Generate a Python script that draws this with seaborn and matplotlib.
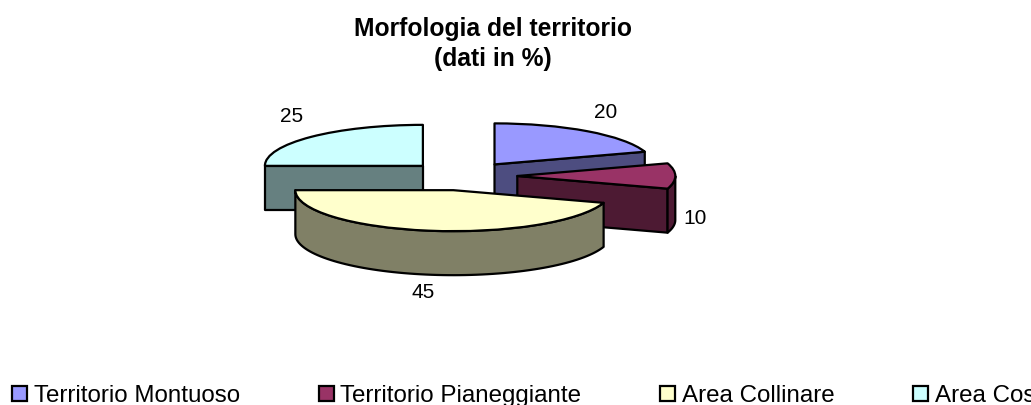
import numpy as np
import matplotlib
matplotlib.use("Agg")
import matplotlib.pyplot as plt
import seaborn as sns

categories = ["Territorio Montuoso", "Territorio Pianeggiante", "Area Collinare", "Area Costiera"]
values = [20, 10, 45, 25]
colors = ["#9999FF", "#993366", "#FFFFCC", "#CCFFFF"]
title = "Morfologia del territorio\n(dati in %)"

W, H = 1031, 405
CX, CY, RX, RY = 462, 176, 158, 41   # pie centre and radii, pixels
DEPTH = 44 / RY                      # extrusion in radius units
EXPLODE = 0.35
LW = 1.6

sns.set_theme(style="white")
plt.rcParams["font.family"] = ["Liberation Sans", "DejaVu Sans"]
FS_TITLE = 17.7
FS_LABEL = 15.0
FS_LEGEND = 17.4

fig = plt.figure(figsize=(W / 100, H / 100), dpi=100, facecolor="white")
ax = fig.add_axes([0, 0, 1, 1])

wedges, _ = ax.pie(values, labels=None, colors=colors, startangle=90, counterclock=False,
                   explode=[EXPLODE] * len(values),
                   wedgeprops=dict(edgecolor="black", linewidth=LW, joinstyle="round"))
ax.set_aspect("auto")
ax.set_xlim(-CX / RX, (W - CX) / RX)
ax.set_ylim(-(H - CY) / RY, CY / RY)
ax.axis("off")


def pt(a, r=1.0):
    return r * np.sin(a), r * np.cos(a)


edges = np.radians(np.concatenate([[0], np.cumsum(values)]) * 3.6)
draw_order = [3, 0, 1, 2]   # back to front

for z, i in enumerate(draw_order):
    a0, a1 = edges[i], edges[i + 1]
    mid = (a0 + a1) / 2
    ox, oy = pt(mid, EXPLODE)
    dark = tuple(c * 0.5 for c in matplotlib.colors.to_rgb(colors[i]))

    def wall(xs, ys):
        xs, ys = np.asarray(xs), np.asarray(ys)
        px = np.concatenate([xs, xs[::-1]]) + ox
        py = np.concatenate([ys, ys[::-1] - DEPTH]) + oy
        ax.fill(px, py, facecolor=dark, edgecolor="black", linewidth=LW,
                joinstyle="round", zorder=10 + 2 * z)

    # radial walls facing the viewer
    for a, normal in ((a0, a0 - np.pi / 2), (a1, a1 + np.pi / 2)):
        if np.cos(normal) < -1e-6:
            x, y = pt(a)
            wall([0, x], [0, y])
    # outer rim on the lower half
    lo, hi = max(a0, np.pi / 2), min(a1, 3 * np.pi / 2)
    if hi > lo:
        t = np.linspace(lo, hi, 80)
        wall(np.sin(t), np.cos(t))
    wedges[i].set_zorder(11 + 2 * z)

fig.text(493 / W, 1 - 44 / H, title, ha="center", va="center", fontsize=FS_TITLE,
         fontweight="bold", color="black", linespacing=1.33)

label_px = [(606, 112), (695, 219), (423, 292), (291.5, 117)]
for v, (px, py) in zip(values, label_px):
    fig.text(px / W, 1 - py / H, str(v), ha="center", va="center", fontsize=FS_LABEL, color="black")

leg = fig.legend(wedges, categories, loc="lower left", bbox_to_anchor=(12 / W, -2 / H), ncols=4,
                 frameon=False, fontsize=FS_LEGEND, columnspacing=3.27, handlelength=0.62,
                 handleheight=0.62, handletextpad=0.27, borderpad=0, borderaxespad=0,
                 labelcolor="black")

fig.savefig("out.png", dpi=100, facecolor="white")
